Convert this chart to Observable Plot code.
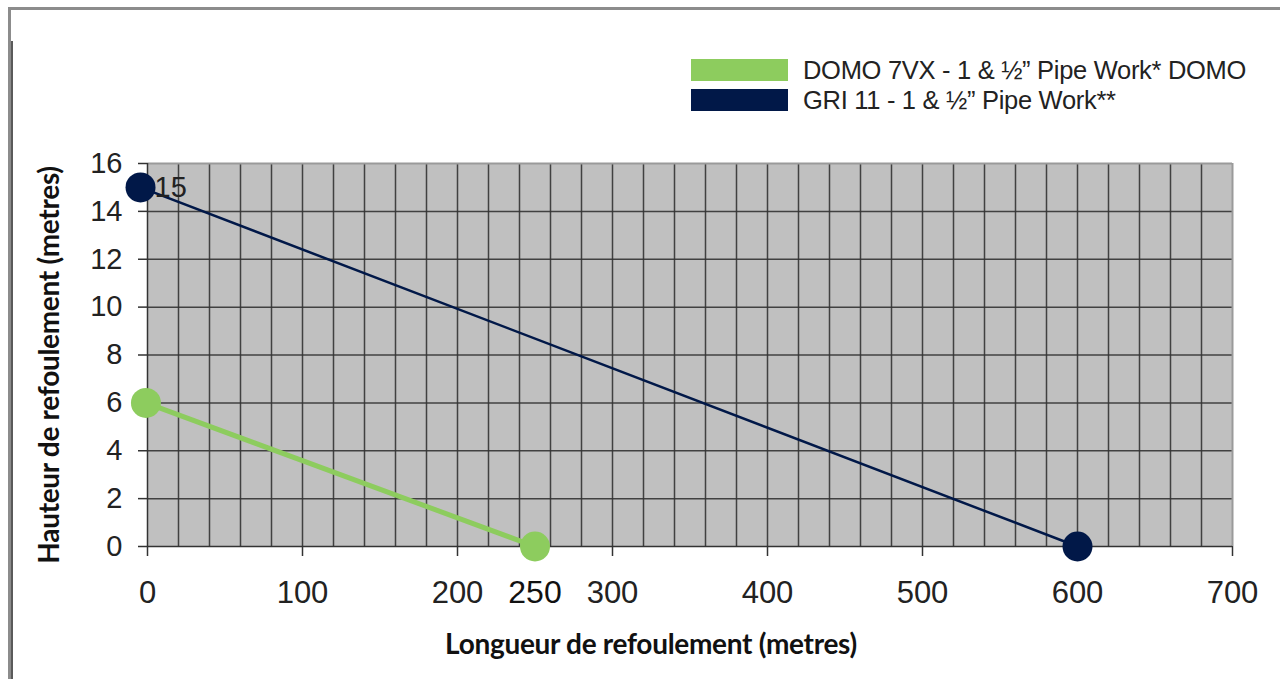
<!DOCTYPE html>
<html>
<head>
<meta charset="utf-8">
<script src="https://cdn.jsdelivr.net/npm/d3@7"></script>
<script src="https://cdn.jsdelivr.net/npm/@observablehq/plot@0.6"></script>
<style>
  html, body { margin: 0; padding: 0; background: #fff; }
  #wrap { position: relative; width: 1280px; height: 679px; overflow: hidden; background: #fff; }
  #wrap svg { position: absolute; left: 0; top: 0; }
  .bTop { position: absolute; left: 8px; top: 7px; width: 1272px; height: 3px; background: #8c8c8c; }
  .bLeft { position: absolute; left: 8px; top: 7px; width: 3px; height: 672px; background: #8c8c8c; }
  .bLeft2 { position: absolute; left: 11px; top: 41px; width: 2px; height: 638px; background: #5a5a5a; }
  .legend { position: absolute; left: 691px; top: 59px; font-family: "Liberation Sans", Arial, sans-serif; font-size: 25.5px; color: #222; letter-spacing: -0.3px; }
  .legend .row { position: relative; height: 30px; }
  .legend .sw { position: absolute; left: 0; width: 97px; height: 22px; }
  .legend .lab { position: absolute; left: 112px; top: -4px; white-space: nowrap; line-height: 30px; }
</style>
</head>
<body>
<div id="wrap"></div>
<script>
// ---- data ----
const seriesNames = ["DOMO 7VX - 1 & \u00BD\u201D Pipe Work* DOMO", "GRI 11 - 1 & \u00BD\u201D Pipe Work**"];
const seriesColors = ["#8dcc5e", "#011848"];
const domoX = [-1, 250];
const domoY = [6, 0];
const griX = [-4.5, 600];
const griY = [15, 0];
const xTicks = [0, 100, 200, 300, 400, 500, 600, 700];
const yTicks = [0, 2, 4, 6, 8, 10, 12, 14, 16];
const xGrid = [20, 40, 60, 80, 100, 120, 140, 160, 180, 200, 220, 240, 260, 280, 300, 320, 340, 360, 380, 400, 420, 440, 460, 480, 500, 520, 540, 560, 580, 600, 620, 640, 660, 680];
const yGrid = [2, 4, 6, 8, 10, 12, 14];
const extraXLabels = [250];
const pointLabels = [{x: -4.5, y: 15, text: "15"}];
const xTitle = "Longueur de refoulement (metres)";
const yTitle = "Hauteur de refoulement (metres)";

const domo = domoX.map((x, i) => ({x, y: domoY[i]}));
const gri = griX.map((x, i) => ({x, y: griY[i]}));

const chart = Plot.plot({
  width: 1280,
  height: 679,
  marginLeft: 147,
  marginRight: 48,
  marginTop: 163,
  marginBottom: 133,
  style: {fontFamily: "'Liberation Sans', Arial, sans-serif", background: "transparent", color: "#222"},
  x: {domain: [0, 700]},
  y: {domain: [0, 16]},
  marks: [
    Plot.frame({fill: "#c0c0c0", stroke: null}),
    Plot.ruleX(xGrid, {stroke: "#333", strokeWidth: 1.5, strokeOpacity: 0.9}),
    Plot.ruleY(yGrid, {stroke: "#333", strokeWidth: 1.5, strokeOpacity: 0.9}),
    Plot.ruleY([16], {stroke: "#9a9a9a", strokeWidth: 2}),
    Plot.ruleX([700], {stroke: "#9a9a9a", strokeWidth: 2}),
    Plot.ruleX([0], {stroke: "#333", strokeWidth: 1.5}),
    Plot.ruleY([0], {stroke: "#333", strokeWidth: 1.5}),
    Plot.axisX({ticks: xTicks, tickSize: 10, tickPadding: 24, fontSize: 31, stroke: "#333", strokeWidth: 1.5, tickFormat: d => String(d), label: null}),
    Plot.axisY({ticks: yTicks, tickSize: 9, tickPadding: 16, fontSize: 29, stroke: "#333", strokeWidth: 1.5, tickFormat: d => String(d), label: null}),
    Plot.text(extraXLabels, {x: d => d, y: 0, text: d => String(d), fontSize: 32, fill: "#111", dy: 34, lineAnchor: "top"}),
    Plot.line(gri, {x: "x", y: "y", stroke: seriesColors[1], strokeWidth: 2.5}),
    Plot.line(domo, {x: "x", y: "y", stroke: seriesColors[0], strokeWidth: 5}),
    Plot.dot(gri, {x: "x", y: "y", r: 15, fill: seriesColors[1]}),
    Plot.dot(domo, {x: "x", y: "y", r: 15, fill: seriesColors[0]}),
    Plot.text(pointLabels, {x: "x", y: "y", text: "text", fontSize: 29, fill: "#222", textAnchor: "start", dx: 14, dy: 0, lineAnchor: "middle"}),
    Plot.text([xTitle], {frameAnchor: "bottom", text: d => d, dx: -39, dy: 99, fontSize: 28, fontWeight: "bold", fontFamily: "Lato", fill: "#111", lineAnchor: "middle"}),
    Plot.text([yTitle], {frameAnchor: "left", text: d => d, rotate: -90, textAnchor: "middle", dx: -97, dy: 10, fontSize: 28, fontWeight: "bold", fontFamily: "Lato", fill: "#111", lineAnchor: "middle"})
  ]
});

const wrap = document.getElementById("wrap");
wrap.appendChild(chart);
chart.querySelectorAll("text").forEach(t => {
  if (t.textContent === xTitle || t.textContent === yTitle) t.style.letterSpacing = "-0.3px";
});

["bTop", "bLeft", "bLeft2"].forEach(c => { const d = document.createElement("div"); d.className = c; wrap.appendChild(d); });

const legend = document.createElement("div");
legend.className = "legend";
seriesNames.forEach((name, i) => {
  const row = document.createElement("div");
  row.className = "row";
  const sw = document.createElement("div");
  sw.className = "sw";
  sw.style.background = seriesColors[i];
  const lab = document.createElement("div");
  lab.className = "lab";
  lab.textContent = name;
  row.appendChild(sw); row.appendChild(lab);
  legend.appendChild(row);
});
wrap.appendChild(legend);
</script>
</body>
</html>
